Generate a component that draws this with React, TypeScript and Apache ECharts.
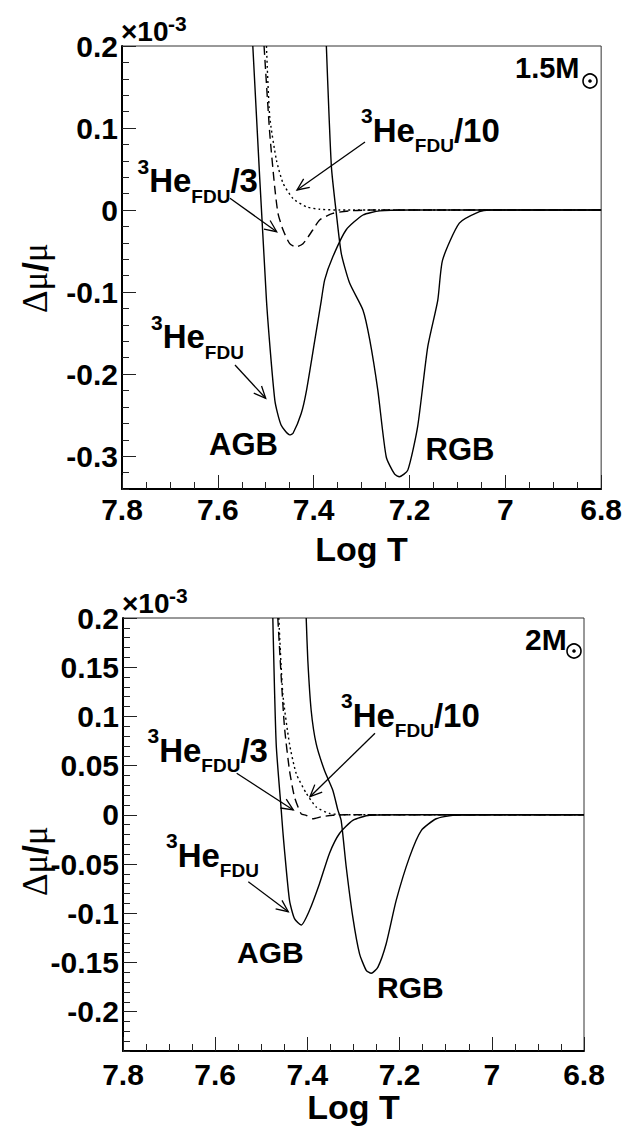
import React, { useEffect, useRef } from 'react';
import * as echarts from 'echarts';

// ---------- Top panel (1.5 Msun) : [log T, delta mu / mu (x1e-3)] ----------
const topAGB: number[][] = [
  [7.527, 0.2], [7.4985, -0.11], [7.481, -0.232], [7.468, -0.262], [7.45, -0.274],
  [7.443, -0.272], [7.426, -0.248], [7.415, -0.22], [7.398, -0.16], [7.384, -0.11],
  [7.377, -0.085], [7.36, -0.057], [7.332, -0.024], [7.297, -0.006], [7.262, -0.001],
  [7.2, 0], [6.8, 0],
];
const topRGB: number[][] = [
  [7.3735, 0.2], [7.363, 0.053], [7.3527, -0.004], [7.3423, -0.053], [7.325, -0.089],
  [7.297, -0.122], [7.283, -0.158], [7.266, -0.22], [7.2485, -0.301], [7.231, -0.322],
  [7.221, -0.325], [7.2035, -0.317], [7.183, -0.264], [7.162, -0.167], [7.141, -0.11],
  [7.131, -0.061], [7.096, -0.016], [7.054, -0.002], [7.033, 0], [6.8, 0],
];
const topThird: number[][] = [
  [7.5035, 0.2], [7.4917, 0.094], [7.4813, 0.028], [7.4744, -0.004], [7.464, -0.024],
  [7.45, -0.041], [7.4375, -0.045], [7.4223, -0.041], [7.4015, -0.024], [7.3875, -0.012],
  [7.36, -0.004], [7.325, -0.001], [7.28, 0], [6.8, 0],
];
const topTenth: number[][] = [
  [7.4985, 0.2], [7.4917, 0.114], [7.4777, 0.061], [7.464, 0.033], [7.4431, 0.014],
  [7.4152, 0.004], [7.3875, 0.001], [7.346, 0], [6.8, 0],
];

// ---------- Bottom panel (2 Msun) ----------
const botAGB: number[][] = [
  [7.475, 0.2], [7.4677, 0.072], [7.4568, 0.005], [7.4534, -0.016], [7.4497, -0.036],
  [7.4388, -0.087], [7.428, -0.1055], [7.4134, -0.112], [7.3954, -0.097], [7.3738, -0.07],
  [7.352, -0.039], [7.3304, -0.019], [7.3015, -0.0056], [7.265, -0.0005], [7.2, 0], [6.8, 0],
];
const botRGB: number[][] = [
  [7.4026, 0.2], [7.3991, 0.157], [7.3918, 0.106], [7.3809, 0.072], [7.3629, 0.045],
  [7.3449, 0.025], [7.334, 0.005], [7.3267, -0.006], [7.3158, -0.053], [7.3015, -0.104],
  [7.287, -0.141], [7.2724, -0.158], [7.2616, -0.161], [7.2473, -0.155], [7.2291, -0.131],
  [7.2074, -0.087], [7.1785, -0.043], [7.1531, -0.016], [7.1206, -0.004], [7.0846, -0.0005],
  [7.0, 0], [6.8, 0],
];
const botThird: number[][] = [
  [7.4642, 0.2], [7.4568, 0.14], [7.4497, 0.089], [7.4388, 0.045], [7.4279, 0.018],
  [7.4134, 0.001], [7.4026, -0.0005], [7.3883, -0.004], [7.37, -0.002], [7.3449, -0.0005],
  [7.32, 0], [6.8, 0],
];
const botTenth: number[][] = [
  [7.462, 0.2], [7.4534, 0.123], [7.4388, 0.072], [7.4243, 0.042], [7.4026, 0.022],
  [7.3809, 0.008], [7.3521, 0.0014], [7.32, 0], [6.8, 0],
];

const yMajorTop = [-0.3, -0.2, -0.1, 0, 0.1, 0.2];
const yMajorBottom = [-0.2, -0.15, -0.1, -0.05, 0, 0.05, 0.1, 0.15, 0.2];
const massLabels = ['1.5M', '2M'];

const FONT = 'Liberation Sans, Arial, Helvetica, sans-serif';
const SERIF = 'Liberation Serif, DejaVu Serif, serif';

function heLabel(x: number, baseline: number, tail: string) {
  return {
    type: 'text',
    x,
    y: baseline - 36.4,
    z: 100,
    style: {
      text: '{sup|3}{main|He}{sub|FDU}' + (tail ? '{main|' + tail + '}' : ''),
      fill: '#000',
      textAlign: 'left',
      textVerticalAlign: 'top',
      rich: {
        sup: { fontSize: 21, fontWeight: 'bold', fontFamily: FONT, lineHeight: 31, verticalAlign: 'top', fill: '#000' },
        main: { fontSize: 33, fontWeight: 'bold', fontFamily: FONT, lineHeight: 50, verticalAlign: 'middle', fill: '#000' },
        sub: { fontSize: 19, fontWeight: 'bold', fontFamily: FONT, lineHeight: 22, verticalAlign: 'bottom', fill: '#000' },
      },
    },
  };
}

function plainLabel(text: string, x: number, baseline: number, fs: number, family: string = FONT, weight: string = 'bold') {
  return {
    type: 'text',
    x,
    y: baseline - 0.3465 * fs,
    z: 100,
    style: {
      text,
      fill: '#000',
      fontSize: fs,
      fontWeight: weight,
      fontFamily: family,
      textAlign: 'left',
      textVerticalAlign: 'middle',
    },
  };
}

function multiplier(x: number, baselineMain: number) {
  return [
    plainLabel('×10', x, baselineMain, 28),
    plainLabel('-3', x + 47, baselineMain - 11, 21),
  ];
}

function yTitle(cx: number, yStart: number) {
  return {
    type: 'text',
    x: cx,
    y: yStart,
    rotation: Math.PI / 2,
    z: 100,
    style: {
      text: '{g|Δμ}{s|/}{g|μ}',
      textAlign: 'left',
      textVerticalAlign: 'middle',
      fill: '#000',
      rich: {
        g: { fontSize: 35, fontFamily: SERIF, fontWeight: 'normal', fill: '#000' },
        s: { fontSize: 35, fontFamily: FONT, fontWeight: 'bold', fill: '#000' },
      },
    },
  };
}

function arrow(x1: number, y1: number, x2: number, y2: number) {
  const ang = Math.atan2(y2 - y1, x2 - x1);
  const h = 13;
  const a = 0.42;
  const p1 = [x2 - h * Math.cos(ang - a), y2 - h * Math.sin(ang - a)];
  const p2 = [x2 - h * Math.cos(ang + a), y2 - h * Math.sin(ang + a)];
  return {
    type: 'group',
    z: 100,
    children: [
      { type: 'line', shape: { x1, y1, x2, y2 }, style: { stroke: '#000', lineWidth: 1.3 } },
      { type: 'polyline', shape: { points: [p1, [x2, y2], p2] }, style: { stroke: '#000', lineWidth: 1.3, fill: 'none' } },
    ],
  };
}

function sun(cx: number, cy: number) {
  return [
    { type: 'circle', z: 100, shape: { cx, cy, r: 7 }, style: { fill: 'none', stroke: '#000', lineWidth: 1.6 } },
    { type: 'circle', z: 100, shape: { cx, cy, r: 1.8 }, style: { fill: '#000' } },
  ];
}

function lineSeries(data: number[][], xi: number, yi: number, type: any) {
  return {
    type: 'line',
    xAxisIndex: xi,
    yAxisIndex: yi,
    data,
    symbol: 'none',
    smooth: 0.2,
    clip: true,
    lineStyle: { color: '#000', width: 1.4, type },
    z: 5,
  };
}

const fmt = (v: number) => String(Math.round(v * 100) / 100);

function xAxisCfg(gridIndex: number, nameGap: number, labelMargin: number) {
  return {
    gridIndex,
    type: 'value',
    min: 6.8,
    max: 7.8,
    interval: 0.2,
    inverse: true,
    name: 'Log T',
    nameLocation: 'middle',
    nameGap,
    nameTextStyle: { fontSize: 34, fontWeight: 'bold', fontFamily: FONT, color: '#000' },
    axisLine: { show: true, onZero: false, lineStyle: { color: '#000', width: 2 } },
    axisTick: { show: true, inside: true, length: 14, lineStyle: { color: '#222', width: 1 } },
    minorTick: { show: true, splitNumber: 4, length: 7, lineStyle: { color: '#222', width: 1 } },
    splitLine: { show: false },
    minorSplitLine: { show: false },
    axisLabel: {
      show: true,
      margin: labelMargin,
      fontSize: 30,
      fontWeight: 'bold',
      fontFamily: FONT,
      color: '#000',
      showMinLabel: true,
      showMaxLabel: true,
      formatter: (v: number) => String(Math.round(v * 10) / 10),
    },
  };
}

function yMinorAxis(gridIndex: number, min: number, max: number, interval: number) {
  return {
    gridIndex,
    type: 'value',
    position: 'left',
    min,
    max,
    interval,
    axisLine: { show: true, onZero: false, lineStyle: { color: '#000', width: 2 } },
    axisTick: { show: true, inside: true, length: 7, lineStyle: { color: '#222', width: 1 } },
    axisLabel: { show: false },
    splitLine: { show: false },
  };
}

function yMajorAxis(gridIndex: number, min: number, max: number, interval: number, majors: number[]) {
  return {
    gridIndex,
    type: 'value',
    position: 'left',
    offset: 0,
    min,
    max,
    interval,
    axisLine: { show: false, onZero: false },
    axisTick: { show: true, inside: true, length: 14, customValues: majors, lineStyle: { color: '#222', width: 1 } },
    axisLabel: {
      show: true,
      customValues: majors,
      margin: 4,
      fontSize: 30,
      fontWeight: 'bold',
      fontFamily: FONT,
      color: '#000',
      formatter: fmt,
    },
    splitLine: { show: false },
  };
}

export default function App() {
  const ref = useRef<HTMLDivElement>(null);
  useEffect(() => {
    if (!ref.current) return;
    const chart = echarts.init(ref.current, null, { renderer: 'svg' });
    const option: any = {
      animation: false,
      backgroundColor: '#fff',
      grid: [
        { left: 122, top: 46, width: 480, height: 443, show: true, borderColor: '#333', borderWidth: 1, backgroundColor: 'transparent' },
        { left: 123, top: 618, width: 461, height: 433, show: true, borderColor: '#333', borderWidth: 1, backgroundColor: 'transparent' },
      ],
      xAxis: [xAxisCfg(0, 43, 5), xAxisCfg(1, 39, 8)],
      yAxis: [
        yMinorAxis(0, -0.34, 0.2, 0.02),
        yMajorAxis(0, -0.34, 0.2, 0.02, yMajorTop),
        yMinorAxis(1, -0.24, 0.2, 0.01),
        yMajorAxis(1, -0.24, 0.2, 0.01, yMajorBottom),
      ],
      series: [
        lineSeries(topAGB, 0, 0, 'solid'),
        lineSeries(topRGB, 0, 0, 'solid'),
        lineSeries(topThird, 0, 0, [9, 5]),
        lineSeries(topTenth, 0, 0, [2, 3]),
        lineSeries(botAGB, 1, 2, 'solid'),
        lineSeries(botRGB, 1, 2, 'solid'),
        lineSeries(botThird, 1, 2, [9, 5]),
        lineSeries(botTenth, 1, 2, [2, 3]),
      ],
      graphic: [
        ...multiplier(121, 41.7),
        ...multiplier(122, 613.3),
        yTitle(35, 313),
        yTitle(35, 896),
        // top panel
        heLabel(361, 141.7, '/10'),
        heLabel(137.5, 192, '/3'),
        heLabel(151, 348.3, ''),
        arrow(365, 142, 297, 190),
        arrow(230, 198.3, 276.7, 231.7),
        arrow(235, 365, 265.7, 398.3),
        plainLabel('AGB', 209, 455, 31),
        plainLabel('RGB', 425.5, 460, 31),
        plainLabel(massLabels[0], 515, 78.3, 29),
        ...sun(590, 81),
        // bottom panel
        heLabel(341, 726.7, '/10'),
        heLabel(147.5, 761.7, '/3'),
        heLabel(166, 866.7, ''),
        arrow(375, 733.3, 310, 796.7),
        arrow(236.7, 773.3, 293.3, 810),
        arrow(248.3, 881.7, 288.3, 911.7),
        plainLabel('AGB', 237, 963.3, 30),
        plainLabel('RGB', 377, 998.3, 30),
        plainLabel(massLabels[1], 525, 650, 30),
        ...sun(574, 651),
      ],
    };
    chart.setOption(option);
    return () => chart.dispose();
  }, []);
  return (
    <div
      ref={ref}
      style={{ position: 'absolute', left: 0, top: 0, width: 625, height: 1127, background: '#fff' }}
    />
  );
}
